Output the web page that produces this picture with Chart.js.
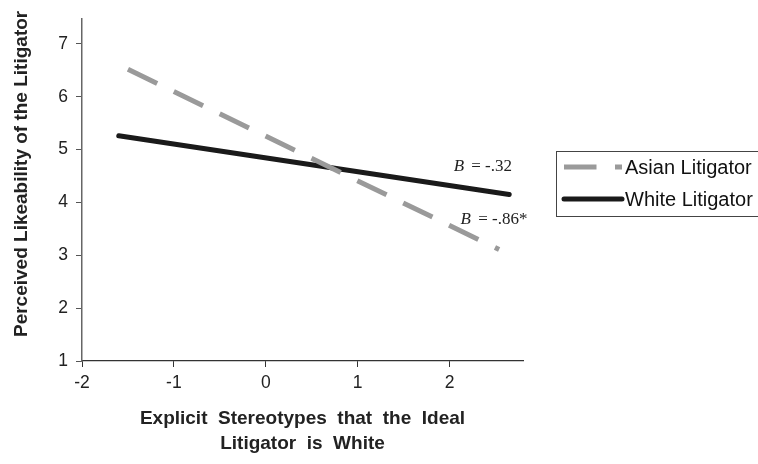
<!DOCTYPE html>
<html lang="en">
<head>
  <meta charset="utf-8">
  <script src="https://cdn.jsdelivr.net/npm/chart.js@4"></script>
  <style>
    html, body { margin: 0; padding: 0; background: #fff; }
    .chart-area { position: relative; width: 758px; height: 464px; }
  </style>
</head>
<body>
  <div class="chart-area">
    <canvas id="likeChart"></canvas>
  </div>
<script>
  // data
  const seriesNames = ['Asian Litigator', 'White Litigator'];
  const asianX = [-1.50, 2.54];
  const asianY = [6.52, 3.11];
  const whiteX = [-1.60, 2.65];
  const whiteY = [5.26, 4.15];
  const xTicks = [-2, -1, 0, 1, 2];
  const yTicks = [1, 2, 3, 4, 5, 6, 7];
  const noteText = ['= -.32', '= -.86*'];
  const noteAt = [[2.045, 4.6], [2.12, 3.59]];

  const toPoints = (xs, ys) => xs.map((x, i) => ({ x: x, y: ys[i] }));

  // legend box + B labels drawn on the canvas
  const extrasPlugin = {
    id: 'extras',
    afterDraw(chart) {
      const ctx = chart.ctx;
      const xs = chart.scales.x, ys = chart.scales.y;

      ctx.save();
      ctx.textBaseline = 'alphabetic';
      noteText.forEach((t, i) => {
        const px = xs.getPixelForValue(noteAt[i][0]);
        const py = ys.getPixelForValue(noteAt[i][1]);
        ctx.fillStyle = '#222';
        ctx.font = 'italic 17px "Liberation Serif", "DejaVu Serif", serif';
        ctx.fillText('B', px, py);
        const w = ctx.measureText('B ').width;
        ctx.font = '17px "Liberation Serif", "DejaVu Serif", serif';
        ctx.fillText(t, px + w + 3, py);
      });

      // legend
      const left = 556, top = 151, bottom = 216;
      ctx.strokeStyle = '#444';
      ctx.lineWidth = 1;
      ctx.strokeRect(left + 0.5, top + 0.5, 758, bottom - top);

      const rows = [167, 199];
      chart.data.datasets.forEach((ds, i) => {
        const y = rows[i];
        ctx.strokeStyle = ds.borderColor;
        ctx.lineWidth = ds.borderWidth;
        ctx.lineCap = ds.borderCapStyle || 'butt';
        ctx.setLineDash(ds.borderDash || []);
        ctx.beginPath();
        ctx.moveTo(564, y);
        ctx.lineTo(622, y);
        ctx.stroke();
        ctx.setLineDash([]);
        ctx.fillStyle = '#111';
        ctx.font = '20px "Liberation Sans", Arial, sans-serif';
        ctx.textBaseline = 'middle';
        ctx.fillText(ds.label, 625, y + 1);
      });
      ctx.restore();
    }
  };

  const chartData = {
    datasets: [
      {
        label: seriesNames[0],
        data: toPoints(asianX, asianY),
        borderColor: '#9a9a9a',
        borderWidth: 5,
        borderDash: [32.5, 18.5],
        borderCapStyle: 'butt',
        pointRadius: 0,
        fill: false
      },
      {
        label: seriesNames[1],
        data: toPoints(whiteX, whiteY),
        borderColor: '#1a1a1a',
        borderWidth: 5,
        borderCapStyle: 'round',
        pointRadius: 0,
        fill: false
      }
    ]
  };

  const lineConfig = {
    type: 'line',
    data: chartData,
    plugins: [extrasPlugin],
    options: {
      responsive: false,
      animation: false,
      layout: { padding: { left: 0, right: 235, top: 8, bottom: 0 } },
      plugins: {
        legend: { display: false },
        tooltip: { enabled: false }
      },
      scales: {
        x: {
          type: 'linear',
          min: -2,
          max: 2.8,
          afterFit: (s) => { s.height = 103; },
          afterBuildTicks: (s) => { s.ticks = xTicks.map(v => ({ value: v })); },
          grid: { drawOnChartArea: false, drawTicks: true, tickLength: 6, color: '#333' },
          border: { display: true, color: '#333', width: 1.2 },
          ticks: {
            color: '#222',
            padding: 6,
            font: { family: '"Liberation Sans", Arial, sans-serif', size: 17.5 }
          },
          title: {
            display: true,
            text: ['Explicit  Stereotypes  that  the  Ideal', 'Litigator  is  White'],
            color: '#222',
            padding: { top: 0, bottom: 8 },
            font: { family: '"Liberation Sans", Arial, sans-serif', size: 19, weight: 'bold', lineHeight: 1.316 }
          }
        },
        y: {
          min: 1,
          max: 7.48,
          afterFit: (s) => { s.width = 82; },
          afterBuildTicks: (s) => { s.ticks = yTicks.map(v => ({ value: v })); },
          grid: { drawOnChartArea: false, drawTicks: true, tickLength: 6, color: '#555' },
          border: { display: true, color: '#666', width: 1.5 },
          ticks: {
            color: '#222',
            padding: 8,
            font: { family: '"Liberation Sans", Arial, sans-serif', size: 17.5 }
          },
          title: {
            display: true,
            text: '      Perceived Likeability of the Litigator',
            color: '#222',
            padding: { top: 10, bottom: 0 },
            font: { family: '"Liberation Sans", Arial, sans-serif', size: 19, weight: 'bold', lineHeight: 1.2 }
          }
        }
      }
    }
  };

  const canvas = document.getElementById('likeChart');
  canvas.width = 758;
  canvas.height = 464;
  new Chart(canvas.getContext('2d'), lineConfig);
</script>
</body>
</html>
